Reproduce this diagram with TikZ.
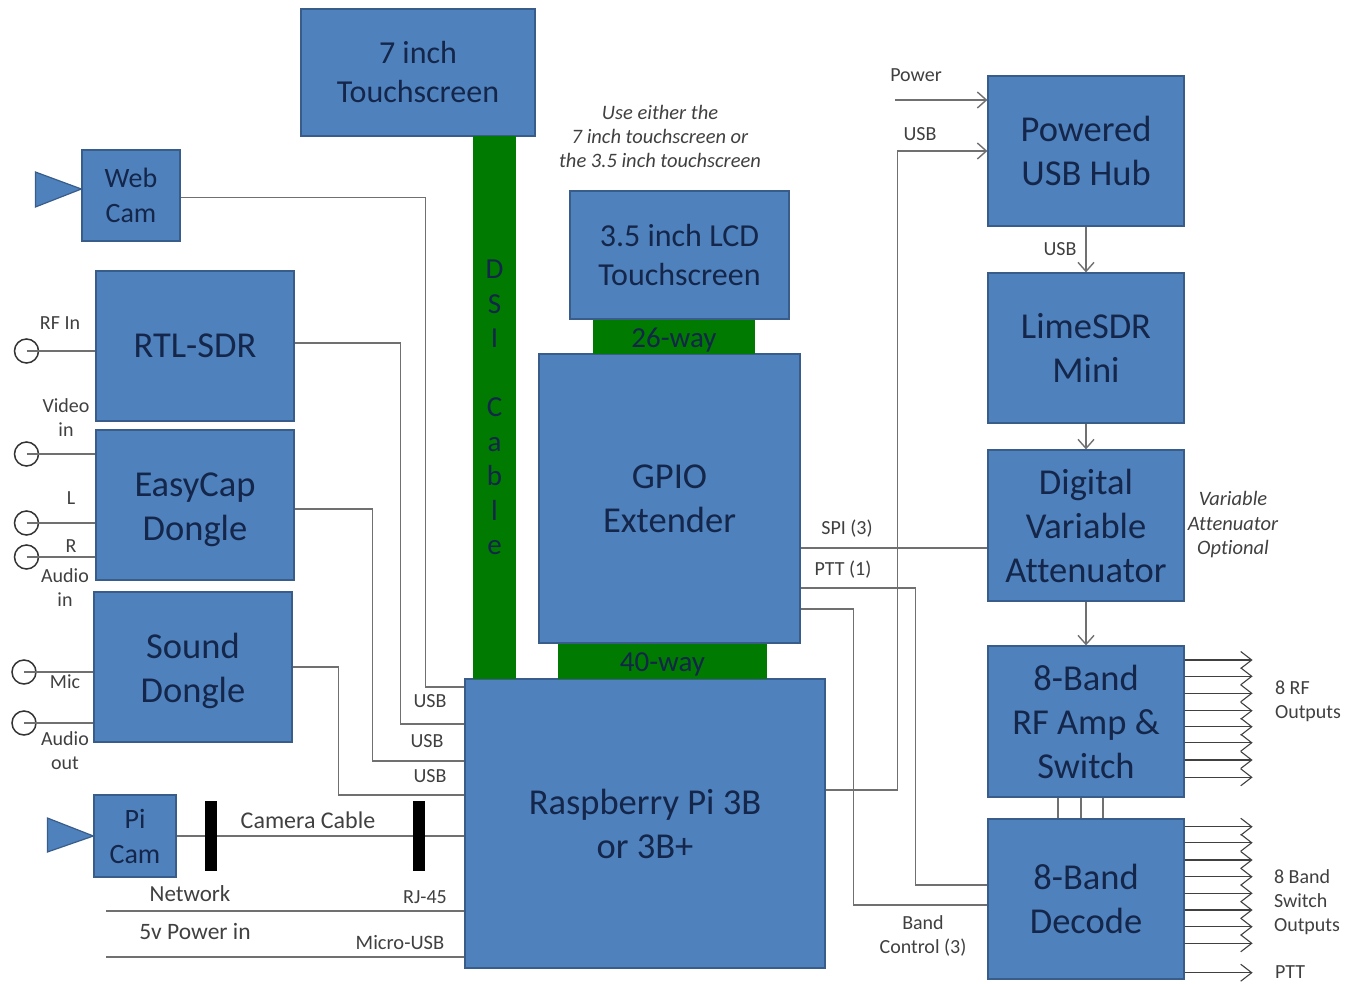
\documentclass[tikz,border=0pt]{standalone}
\usepackage{xcolor}
\usepackage{fontspec}
\setmainfont[Ligatures=NoCommon]{Carlito}
\usepackage{tikz}
\usetikzlibrary{arrows.meta}
\definecolor{boxblue}{HTML}{4F81BD}
\definecolor{boxedge}{HTML}{385D8A}
\definecolor{boxtext}{HTML}{14264A}
\definecolor{cablegreen}{HTML}{007A00}
\definecolor{labelgrey}{HTML}{404040}
\definecolor{wiregrey}{HTML}{707070}
\tikzset{
  blockbox/.style={draw=boxedge, line width=1.2pt, fill=boxblue, rectangle, align=center, inner sep=0pt, text=boxtext,
    font=\fontsize{36.5}{44}\selectfont},
  smallblock/.style={blockbox, font=\fontsize{32}{39}\selectfont},
  camblock/.style={blockbox, font=\fontsize{28}{35}\selectfont},
  greenbox/.style={fill=cablegreen, rectangle, align=center, inner sep=0pt, text=boxtext, font=\fontsize{29}{34.5}\selectfont},
  jackring/.style={draw=black!80, line width=1.5pt, circle, minimum size=24pt, inner sep=0pt},
  plugbar/.style={fill=black, rectangle, minimum width=12pt, minimum height=70pt, inner sep=0pt},
  wirelabel/.style={yshift=-1pt, text=labelgrey, align=center, inner sep=0pt, font=\fontsize{20}{24}\selectfont},
  wire/.style={draw=wiregrey, line width=1.4pt},
  outwire/.style={draw=labelgrey, line width=1.1pt, -{Straight Barb[length=11pt,width=17pt]}}
}
\begin{document}
\begin{tikzpicture}[x=1pt,y=-1pt,node distance=100pt,>={Straight Barb[length=9pt,width=16pt]}]
    \useasboundingbox (0,0) rectangle (1346,983);

    % Centre column: Pi -> 40-way -> GPIO -> 26-way -> LCD -> 7 inch
    \node (pi)      [blockbox, minimum width=360pt, minimum height=289pt] at (645,823.5) {Raspberry Pi 3B \\ or 3B+};
    \node (way40)   [greenbox, above of=pi, xshift=17.5pt, yshift=62pt, minimum width=209pt, minimum height=35pt] {\rule{0pt}{25pt}40-way};
    \node (gpio)    [blockbox, above of=way40, xshift=7pt, yshift=63pt, minimum width=261pt, minimum height=289pt] {GPIO \\ Extender};
    \node (way26)   [greenbox, above of=gpio, xshift=4.5pt, yshift=61.5pt, minimum width=162pt, minimum height=34pt] {\rule{0pt}{25pt}26-way};
    \node (lcd)     [smallblock, above of=way26, xshift=5.5pt, yshift=-18pt, minimum width=219pt, minimum height=128pt] {3.5 inch LCD \\ Touchscreen};
    \node (touch)   [smallblock, above of=lcd, xshift=-261.5pt, yshift=82.5pt, minimum width=234pt, minimum height=127pt] {7 inch \\ Touchscreen};
    \node (dsi)     [greenbox, below of=touch, xshift=76.5pt, yshift=-235pt, minimum width=43pt, minimum height=543pt] {D \\ S \\ I \\ ~ \\ C \\ a \\ b \\ l \\ e};

    % Left column
    \node (easycap) [blockbox, left of=gpio, xshift=-374.5pt, yshift=-6.5pt, minimum width=198pt, minimum height=150pt] {\rule{0pt}{34pt}EasyCap \\ Dongle};
    \node (rtl)     [blockbox, above of=easycap, yshift=59pt, minimum width=198pt, minimum height=150pt] {RTL-SDR};
    \node (sound)   [blockbox, below of=easycap, xshift=-2pt, yshift=-62pt, minimum width=198pt, minimum height=150pt] {\rule{0pt}{34pt}Sound \\ Dongle};
    \node (webCam)  [camblock, above of=rtl, xshift=-64pt, yshift=50.5pt, minimum width=98pt, minimum height=91pt] {Web \\ Cam};
    \node (piCam)   [camblock, below of=sound, xshift=-58pt, yshift=-69pt, minimum width=82pt, minimum height=82pt] {Pi \\ Cam};

    % Right column
    \node (decode)  [blockbox, right of=pi, xshift=341pt, yshift=-75.5pt, minimum width=196pt, minimum height=160pt] {8-Band \\ Decode};
    \node (rfAmp)   [blockbox, above of=decode, yshift=77.5pt, minimum width=196pt, minimum height=151pt] {8-Band \\ RF Amp \& \\ Switch};
    \node (atten)   [blockbox, above of=rfAmp, yshift=96pt, minimum width=196pt, minimum height=151pt] {Digital \\ Variable \\ Attenuator};
    \node (lime)    [blockbox, above of=atten, yshift=77.5pt, minimum width=196pt, minimum height=150pt] {LimeSDR \\ Mini};
    \node (hub)     [blockbox, above of=lime, yshift=97pt, minimum width=196pt, minimum height=150pt] {Powered \\ USB Hub};

    % Input sockets
    \node (jackRf)    [jackring, left of=rtl, xshift=-68.5pt, yshift=-5pt] {};
    \node (jackVideo) [jackring, left of=easycap, xshift=-68.5pt, yshift=51pt] {};
    \node (jackL)     [jackring, left of=easycap, xshift=-68.5pt, yshift=-18pt] {};
    \node (jackR)     [jackring, left of=easycap, xshift=-68.5pt, yshift=-52pt] {};
    \node (jackMic)   [jackring, left of=sound, xshift=-69pt, yshift=-5pt] {};
    \node (jackOut)   [jackring, left of=sound, xshift=-69pt, yshift=-56pt] {};

    % Free ends of the two supply lines
    \coordinate (netEnd) at (106,911);
    \coordinate (powerEnd) at (106,957);

    % Lenses
    \draw [draw=boxedge, line width=1.2pt, fill=boxblue] ([yshift=6.5pt]webCam.west) -- ++(-46,-17) -- ++(0,35) -- cycle;
    \draw [draw=boxedge, line width=1.2pt, fill=boxblue] (piCam.west) -- ++(-46,-18) -- ++(0,34) -- cycle;

    % Socket wires
    \draw [wire] (jackRf.center) -- (jackRf.center -| rtl.west);
    \draw [wire] (jackVideo.center) -- (jackVideo.center -| easycap.west);
    \draw [wire] (jackL.center) -- (jackL.center -| easycap.west);
    \draw [wire] (jackR.center) -- (jackR.center -| easycap.west);
    \draw [wire] (jackMic.center) -- (jackMic.center -| sound.west);
    \draw [wire] (jackOut.center) -- (jackOut.center -| sound.west);

    % USB wires into the Pi
    \draw [wire] ([yshift=-2pt]webCam.east) -- ++(245,0) |- ([yshift=136.5pt]pi.west);
    \draw [wire] ([yshift=3pt]rtl.east) -- ++(106,0) |- ([yshift=99.5pt]pi.west);
    \draw [wire] ([yshift=-4pt]easycap.east) -- ++(78,0) |- ([yshift=62.5pt]pi.west);
    \draw [wire] (sound.east) -- ++(46,0) |- ([yshift=28.5pt]pi.west);

    % Camera cable and supply lines
    \draw [wire] (piCam.east) -- (piCam.east -| pi.west);
    \node (plugA) [plugbar, right of=piCam, xshift=-24pt, yshift=0.5pt] {};
    \node (plugB) [plugbar, right of=plugA, xshift=108pt] {};
    \draw [wire] (netEnd) -- (netEnd -| pi.west);
    \draw [wire] (powerEnd) -- (powerEnd -| pi.west);

    % Wires on the right
    \draw [wire, ->] ([yshift=33.5pt]pi.east) -- ++(72,0) |- (hub.west);
    \coordinate (powerIn) at (895,100);
    \draw [wire, ->] (powerIn) -- (powerIn -| hub.west);
    \draw [wire, ->] (hub.south) -- (lime.north);
    \draw [wire, ->] (lime.south) -- (atten.north);
    \draw [wire, ->] (atten.south) -- (rfAmp.north);
    \draw [wire] ([yshift=-49.5pt]gpio.east) -- ([yshift=-22.5pt]atten.west);
    \draw [wire] ([yshift=-89.5pt]gpio.east) -- ++(115,0) |- ([yshift=14pt]decode.west);
    \draw [wire] ([yshift=-110.5pt]gpio.east) -- ++(53,0) |- ([yshift=-6pt]decode.west);
    \draw [wire] ([xshift=-28pt]rfAmp.south) -- ([xshift=-28pt]decode.north);
    \draw [wire] ([xshift=-5pt]rfAmp.south) -- ([xshift=-5pt]decode.north);
    \draw [wire] ([xshift=17pt]rfAmp.south) -- ([xshift=17pt]decode.north);

    % RF outputs
    \draw [outwire] ([yshift=61.5pt]rfAmp.east) -- ++(68,0);
    \draw [outwire] ([yshift=45.2pt]rfAmp.east) -- ++(68,0);
    \draw [outwire] ([yshift=28.2pt]rfAmp.east) -- ++(68,0);
    \draw [outwire] ([yshift=10.8pt]rfAmp.east) -- ++(68,0);
    \draw [outwire] ([yshift=-5.2pt]rfAmp.east) -- ++(68,0);
    \draw [outwire] ([yshift=-21.2pt]rfAmp.east) -- ++(68,0);
    \draw [outwire] ([yshift=-38.5pt]rfAmp.east) -- ++(68,0);
    \draw [outwire] ([yshift=-55.8pt]rfAmp.east) -- ++(68,0);

    % Band switch outputs
    \draw [outwire] ([yshift=72.3pt]decode.east) -- ++(68,0);
    \draw [outwire] ([yshift=56.3pt]decode.east) -- ++(68,0);
    \draw [outwire] ([yshift=39pt]decode.east) -- ++(68,0);
    \draw [outwire] ([yshift=22.3pt]decode.east) -- ++(68,0);
    \draw [outwire] ([yshift=5.7pt]decode.east) -- ++(68,0);
    \draw [outwire] ([yshift=-11pt]decode.east) -- ++(68,0);
    \draw [outwire] ([yshift=-27.7pt]decode.east) -- ++(68,0);
    \draw [outwire] ([yshift=-44.3pt]decode.east) -- ++(68,0);
    \draw [outwire] ([yshift=-73.7pt]decode.east) -- ++(68,0);

    % Labels
    \node (lblRf)     [wirelabel, above of=jackRf, xshift=33.5pt, yshift=-71pt] {RF In};
    \node (lblVideo)  [wirelabel, above of=jackVideo, xshift=39.5pt, yshift=-63pt] {Video \\ in};
    \node (lblL)      [wirelabel, above of=jackL, xshift=44.5pt, yshift=-74pt] {L};
    \node (lblR)      [wirelabel, above of=jackR, xshift=44.5pt, yshift=-88pt] {R};
    \node (lblAudioIn)  [wirelabel, below of=jackR, xshift=38.5pt, yshift=70pt] {Audio \\ in};
    \node (lblMic)    [wirelabel, below of=jackMic, xshift=41pt, yshift=91pt] {Mic};
    \node (lblAudioOut) [wirelabel, below of=jackOut, xshift=41pt, yshift=73pt] {Audio \\ out};
    \node (lblUsbA)   [wirelabel, left of=pi, xshift=-115pt, yshift=123.5pt] {USB};
    \node (lblUsbB)   [wirelabel, left of=pi, xshift=-118pt, yshift=83.5pt] {USB};
    \node (lblUsbC)   [wirelabel, left of=pi, xshift=-115pt, yshift=48.5pt] {USB};
    \node (lblCamera) [wirelabel, right of=plugA, xshift=-3pt, yshift=16.5pt, font=\fontsize{24}{28}\selectfont] {Camera Cable};
    \node (lblNetwork) [wirelabel, below of=piCam, xshift=55pt, yshift=43pt, font=\fontsize{23}{28}\selectfont] {Network};
    \node (lblPower)  [wirelabel, below of=lblNetwork, xshift=5pt, yshift=64pt, font=\fontsize{23.5}{28}\selectfont] {5v Power in};
    \node (lblRj)     [wirelabel, below of=plugB, xshift=6pt, yshift=39.5pt] {RJ-45};
    \node (lblMicro)  [wirelabel, below of=lblRj, xshift=-25pt, yshift=55pt, font=\fontsize{20.5}{24}\selectfont] {Micro-USB};
    \node (lblEither) [wirelabel, above of=lcd, xshift=-19.5pt, yshift=20pt, font=\itshape\fontsize{20.5}{24}\selectfont] {Use either the \\ 7 inch touchscreen or \\ the 3.5 inch touchscreen};
    \node (lblPowerIn) [wirelabel, left of=hub, xshift=-70pt, yshift=77pt] {Power};
    \node (lblUsbHub) [wirelabel, left of=hub, xshift=-66pt, yshift=18pt] {USB};
    \node (lblUsbLime) [wirelabel, above of=lime, xshift=-26pt] {USB};
    \node (lblSpi)    [wirelabel, right of=gpio, xshift=77.5pt, yshift=-29.5pt] {SPI (3)};
    \node (lblPtt)    [wirelabel, right of=gpio, xshift=73.5pt, yshift=-70.5pt] {PTT (1)};
    \node (lblBand)   [wirelabel, left of=decode, xshift=-63pt, yshift=-36pt] {Band \\ Control (3)};
    \node (lblOptional) [wirelabel, right of=atten, xshift=47pt, yshift=1.5pt, font=\itshape\fontsize{20.5}{24.5}\selectfont] {Variable \\ Attenuator \\ Optional};
    \node (lblRfOut)  [wirelabel, right of=rfAmp, xshift=122pt, yshift=21.5pt, align=left] {8 RF \\ Outputs};
    \node (lblBandOut) [wirelabel, right of=decode, xshift=121pt, yshift=-2pt, align=left] {8 Band \\ Switch \\ Outputs};
    \node (lblPttOut) [wirelabel, right of=decode, xshift=104pt, yshift=-72pt] {PTT};
\end{tikzpicture}
\end{document}
